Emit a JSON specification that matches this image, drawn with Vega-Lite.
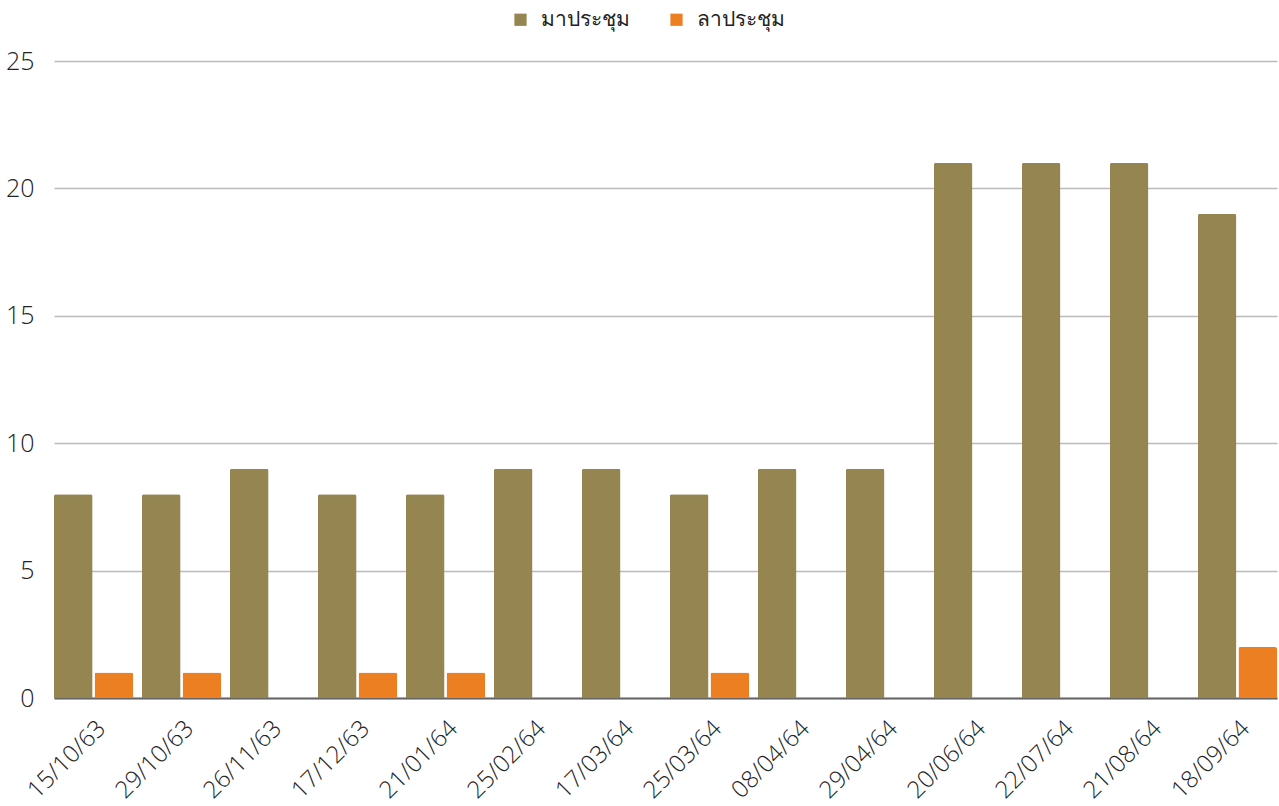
{
  "$schema": "https://vega.github.io/schema/vega-lite/v6.json",
  "width": 1223,
  "height": 637,
  "autosize": {"type": "none"},
  "padding": {"left": 54, "top": 61, "right": 2, "bottom": 108},
  "background": "white",
  "data": {
    "values": [
      {"date": "15/10/63", "series": "มาประชุม", "count": 8},
      {"date": "15/10/63", "series": "ลาประชุม", "count": 1},
      {"date": "29/10/63", "series": "มาประชุม", "count": 8},
      {"date": "29/10/63", "series": "ลาประชุม", "count": 1},
      {"date": "26/11/63", "series": "มาประชุม", "count": 9},
      {"date": "26/11/63", "series": "ลาประชุม", "count": 0},
      {"date": "17/12/63", "series": "มาประชุม", "count": 8},
      {"date": "17/12/63", "series": "ลาประชุม", "count": 1},
      {"date": "21/01/64", "series": "มาประชุม", "count": 8},
      {"date": "21/01/64", "series": "ลาประชุม", "count": 1},
      {"date": "25/02/64", "series": "มาประชุม", "count": 9},
      {"date": "25/02/64", "series": "ลาประชุม", "count": 0},
      {"date": "17/03/64", "series": "มาประชุม", "count": 9},
      {"date": "17/03/64", "series": "ลาประชุม", "count": 0},
      {"date": "25/03/64", "series": "มาประชุม", "count": 8},
      {"date": "25/03/64", "series": "ลาประชุม", "count": 1},
      {"date": "08/04/64", "series": "มาประชุม", "count": 9},
      {"date": "08/04/64", "series": "ลาประชุม", "count": 0},
      {"date": "29/04/64", "series": "มาประชุม", "count": 9},
      {"date": "29/04/64", "series": "ลาประชุม", "count": 0},
      {"date": "20/06/64", "series": "มาประชุม", "count": 21},
      {"date": "20/06/64", "series": "ลาประชุม", "count": 0},
      {"date": "22/07/64", "series": "มาประชุม", "count": 21},
      {"date": "22/07/64", "series": "ลาประชุม", "count": 0},
      {"date": "21/08/64", "series": "มาประชุม", "count": 21},
      {"date": "21/08/64", "series": "ลาประชุม", "count": 0},
      {"date": "18/09/64", "series": "มาประชุม", "count": 19},
      {"date": "18/09/64", "series": "ลาประชุม", "count": 2}
    ]
  },
  "config": {
    "view": {"stroke": null},
    "font": "Open Sans"
  },
  "mark": {"type": "bar", "cornerRadiusTopLeft": 2, "cornerRadiusTopRight": 2},
  "encoding": {
    "x": {
      "field": "date",
      "type": "nominal",
      "sort": null,
      "scale": {"paddingInner": 0.1, "paddingOuter": 0},
      "axis": {
        "title": null,
        "labelAngle": -45,
        "labelFontSize": 24,
        "labelFontWeight": 300,
        "labelColor": "#222222",
        "labelPadding": 18,
        "ticks": false,
        "domainColor": "#666666",
        "domainWidth": 2
      }
    },
    "xOffset": {
      "field": "series",
      "type": "nominal",
      "sort": ["มาประชุม", "ลาประชุม"],
      "scale": {"paddingInner": 0.05}
    },
    "y": {
      "field": "count",
      "type": "quantitative",
      "scale": {"domain": [0, 25]},
      "axis": {
        "title": null,
        "values": [0, 5, 10, 15, 20, 25],
        "labelFontSize": 25,
        "labelFontWeight": 300,
        "labelColor": "#222222",
        "labelPadding": 20,
        "ticks": false,
        "domain": false,
        "gridColor": "#bbbbbb",
        "gridWidth": 1.3
      }
    },
    "color": {
      "field": "series",
      "type": "nominal",
      "scale": {"domain": ["มาประชุม", "ลาประชุม"], "range": ["#958550", "#ec7f22"]},
      "legend": {
        "title": null,
        "orient": "none",
        "direction": "horizontal",
        "legendX": 456,
        "legendY": -52,
        "symbolType": "square",
        "symbolSize": 150,
        "symbolStrokeWidth": 0,
        "labelFontSize": 21,
        "labelFontWeight": 300,
        "labelColor": "#222222",
        "labelOffset": 10,
        "columnPadding": 36
      }
    }
  }
}
